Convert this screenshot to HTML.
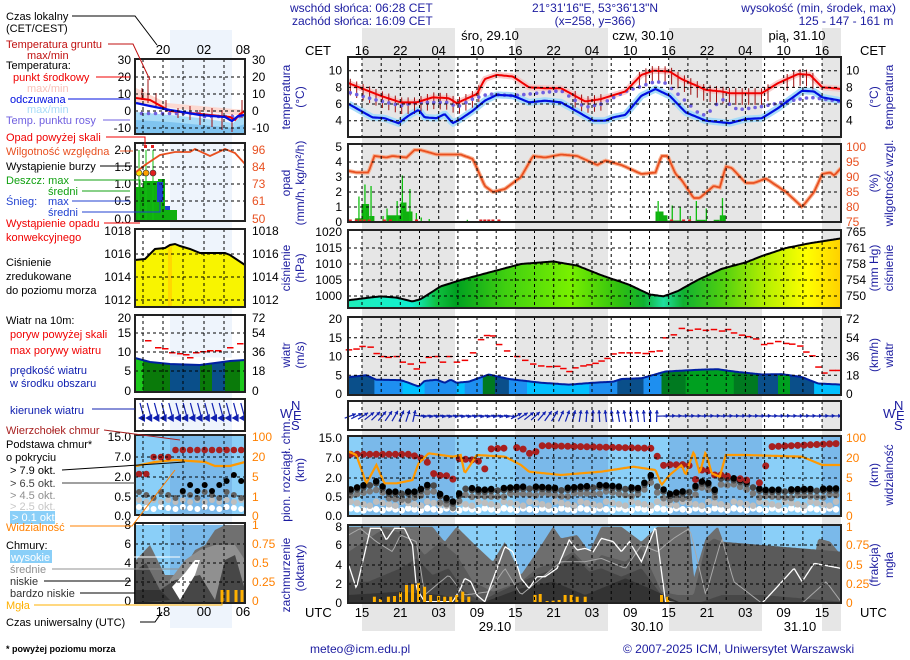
<!DOCTYPE html>
<html><head><meta charset="utf-8"><style>
html,body{margin:0;padding:0;background:#fff;width:910px;height:660px;overflow:hidden}
svg{display:block}
</style></head><body>
<svg id="s" width="910" height="660" xmlns="http://www.w3.org/2000/svg" font-family="Liberation Sans, sans-serif" font-size="12"></svg>
<script>
let o='';
const X=z=>z/2.49+280;
const f=n=>n.toFixed(1);
function interp(L,z){if(z<=L[0][0])return L[0][1];for(let i=1;i<L.length;i++){if(z<=L[i][0]){const a=L[i-1],b=L[i];return a[1]+(b[1]-a[1])*(z-a[0])/(b[0]-a[0]);}}return L[L.length-1][1];}
function samp(L,fy,step){step=step||4;const p=[];for(let z=171;z<=1397;z+=step)p.push([X(z),fy(interp(L,z))]);p.push([X(1397),fy(interp(L,1397))]);return p;}
function pth(p){return 'M'+p.map(q=>f(q[0])+' '+f(q[1])).join('L');}
function line(pts,c,w,extra){o+=`<path d="${pth(pts)}" fill="none" stroke="${c}" stroke-width="${w}" ${extra||''}/>`;}
function area(pts,bot,c){o+=`<path d="${pth(pts)}L${f(pts[pts.length-1][0])} ${bot}L${f(pts[0][0])} ${bot}Z" fill="${c}"/>`;}
function T(x,y,s,c,a,extra){o+=`<text x="${x}" y="${y}" fill="${c||'#000'}" ${a?'text-anchor="'+a+'"':''} ${extra||''}>${s}</text>`;}
function R(x,y,s,c,extra){o+=`<text transform="translate(${x},${y}) rotate(-90)" text-anchor="middle" fill="${c||'#1c1ca0'}" font-size="12" ${extra||''}>${s}</text>`;}
const L0=348,R0=841,M0=135,M1=245;
const nights=[[362,455],[515,608],[669,762],[822,841]];
nights.forEach(n=>o+=`<rect x="${n[0]}" y="28" width="${n[1]-n[0]}" height="603" fill="#e6e6e6"/>`);
o+=`<rect x="170" y="30" width="62" height="598" fill="#eef4fc"/>`;
[[436,516],[525,603]].forEach(r=>{
 o+=`<rect x="${L0}" y="${r[0]}" width="${R0-L0}" height="${r[1]-r[0]}" fill="#8acff8"/>`;
 nights.forEach(n=>o+=`<rect x="${n[0]}" y="${r[0]}" width="${n[1]-n[0]}" height="${r[1]-r[0]}" fill="#7ab9ea"/>`);
 o+=`<rect x="${M0}" y="${r[0]}" width="${M1-M0}" height="${r[1]-r[0]}" fill="#8acff8"/><rect x="170" y="${r[0]}" width="62" height="${r[1]-r[0]}" fill="#7ab9ea"/>`;
});
const yT=t=>70.7+(10-t)*8.33;
const red=[[171,8.5],[250,7.0],[300,6.2],[340,6.2],[380,6.8],[420,6.7],[440,6.1],[490,7.2],[510,9.0],[540,9.5],[580,9.3],[620,8.0],[660,7.9],[700,7.9],[760,6.3],[800,6.6],[860,7.5],[900,9.5],[930,10.0],[970,9.9],[1000,9.0],[1060,7.7],[1100,7.5],[1120,7.3],[1200,7.3],[1240,8.5],[1290,9.6],[1320,9.5],[1350,8.0],[1380,7.9],[1397,7.8]];
const blue=[[171,6.0],[230,4.4],[260,4.3],[295,3.7],[320,4.6],[345,5.3],[360,4.4],[390,4.3],[410,4.8],[430,3.7],[450,4.2],[480,5.2],[510,6.4],[540,7.1],[580,7.0],[620,6.2],[660,6.4],[700,6.2],[780,4.0],[810,4.0],[830,4.4],[860,4.7],[900,7.0],[935,7.8],[970,7.0],[1010,5.0],[1060,4.0],[1120,3.7],[1160,4.2],[1200,4.3],[1240,5.5],[1300,7.6],[1330,7.5],[1350,6.8],[1397,6.4]];
const dew=[[171,7.4],[230,6.6],[300,5.8],[340,6.2],[420,6.2],[440,5.6],[480,6.6],[520,7.2],[580,7.0],[640,7.3],[700,7.6],[760,5.6],[800,6.0],[860,7.5],[935,8.7],[960,8.5],[1000,6.8],[1040,5.0],[1060,4.6],[1100,6.6],[1140,5.3],[1200,5.7],[1260,6.3],[1320,6.8],[1397,6.3]];
line(samp(red,t=>yT(t)),'#f8c0c0',6,'opacity="0.8"');
line(samp(blue,t=>yT(t)),'#a8dcf8',7);
for(let z=175;z<1397;z+=16){const inr=(z<500)||(z>730&&z<800)||(z>880&&z<1230)||(z>1250&&z<1340);if(!inr)continue;const t=interp(red,z);o+=`<line x1="${f(X(z))}" x2="${f(X(z))}" y1="${f(yT(t+0.6))}" y2="${f(yT(t-1.4))}" stroke="#a01010" stroke-width="1"/>`;}
for(let z=175;z<1397;z+=16){o+=`<circle cx="${f(X(z))}" cy="${f(yT(interp(dew,z)))}" r="1.8" fill="#7060e0"/>`;}
line(samp(red,t=>yT(t)),'#f00000',2);
line(samp(blue,t=>yT(t)),'#0010e0',2.2);
const yP=m=>222-m*15, yRH=r=>147+(100-r)*3.0;
[[187,205,0.25],[203,222,1.2],[222,235,0.4],[265,300,0.45],[300,315,1.3],[315,330,0.7],[935,955,0.7],[955,965,0.45],[965,1000,0.1],[1035,1060,0.15],[1080,1095,0.15],[1095,1110,0.45]].forEach(b=>{o+=`<rect x="${f(X(b[0]))}" y="${f(yP(b[2]))}" width="${f((b[1]-b[0])/2.49)}" height="${f(b[2]*15)}" fill="#10b010"/>`;});
[[195,1.7],[210,2.5],[225,2.4],[255,0.4],[265,0.9],[290,1.4],[303,3.1],[322,2.2],[338,0.6],[350,0.3],[370,0.2],[465,0.15],[940,1.4],[975,1.1],[995,1.0],[1020,0.4],[1035,1.4],[1060,0.9],[1100,1.6]].forEach(b=>{o+=`<rect x="${f(X(b[0]))}" y="${f(yP(b[1]))}" width="1.3" height="${f(b[1]*15)}" fill="#10c010"/>`;});
[175,190,200,210,222,260,275,340,500,510,520,530,545,975,1005,1020].forEach(z=>o+=`<rect x="${f(X(z)-1.5)}" y="219.5" width="3" height="3" fill="#e02020"/>`);
const rh=[[171,92],[190,91.5],[220,91.5],[235,97],[265,96.5],[280,97],[315,96.5],[335,99],[350,99],[390,97.5],[450,97.5],[480,96],[510,87],[530,85],[560,86],[600,90],[630,97],[660,96.5],[700,97.5],[740,97],[790,94],[810,95.5],[850,94],[900,91],[935,91.5],[950,97],[965,97],[985,91],[1000,89],[1030,83],[1045,83],[1080,87],[1095,86.5],[1110,93.5],[1125,93],[1160,88],[1180,88],[1210,89.5],[1260,85],[1300,80],[1330,85],[1350,91],[1370,91.5],[1380,90.5],[1397,93]];
line(samp(rh,yRH),'#f8b090',4);
line(samp(rh,yRH),'#e85020',1.8);
const yp=p=>232+(1020-p)*3.2;
const pr=[[171,998.7],[250,999.9],[290,999.5],[330,998.3],[350,999],[400,1003],[450,1005],[540,1008],[600,1010],[680,1010.8],[740,1009.5],[800,1006.5],[870,1003.5],[920,1000.5],[955,999.9],[990,1001.5],[1040,1005],[1100,1008.5],[1160,1010.5],[1200,1012.5],[1260,1015],[1320,1016.5],[1397,1018]];
o+=`<defs><linearGradient id="pg" x1="${L0}" x2="${R0}" y1="0" y2="0" gradientUnits="userSpaceOnUse">
<stop offset="0" stop-color="#20eeb8"/><stop offset="0.13" stop-color="#10f0d0"/><stop offset="0.18" stop-color="#10c040"/><stop offset="0.22" stop-color="#00a020"/><stop offset="0.32" stop-color="#40d010"/><stop offset="0.45" stop-color="#78f000"/><stop offset="0.55" stop-color="#30c010"/><stop offset="0.6" stop-color="#10b030"/><stop offset="0.64" stop-color="#20e0a0"/><stop offset="0.68" stop-color="#10b030"/><stop offset="0.76" stop-color="#50d010"/><stop offset="0.85" stop-color="#b8f000"/><stop offset="0.93" stop-color="#ffff00"/><stop offset="1" stop-color="#ffd000"/></linearGradient></defs>`;
area(samp(pr,yp),308,'url(#pg)');
line(samp(pr,yp),'#000',2);
const yw=w=>394-w*3.75;
const wm=[[171,4.5],[215,5.0],[240,3.8],[300,3.7],[320,3.0],[345,2.0],[360,3.5],[390,3.8],[410,3.0],[425,3.8],[440,3.0],[470,3.3],[520,5.2],[570,4.0],[650,3.0],[720,2.5],[780,3.0],[830,3.3],[850,4.0],[900,4.2],[960,6.0],[1050,6.5],[1090,6.6],[1130,6.0],[1200,5.2],[1250,5.3],[1300,4.5],[1340,2.8],[1397,2.5]];
o+=`<clipPath id="wc"><path d="${pth(samp(wm,yw))}L${R0} 395L${L0} 395Z"/></clipPath><g clip-path="url(#wc)">`;
[[171,235,'#0a4f8a'],[235,305,'#1e8ff0'],[305,360,'#00c0ff'],[360,440,'#1e8ff0'],[440,460,'#00c0ff'],[460,505,'#1e8ff0'],[505,535,'#007a20'],[535,570,'#0a4f8a'],[570,615,'#1e8ff0'],[615,770,'#00c0ff'],[770,840,'#1e8ff0'],[840,905,'#0a4f8a'],[905,950,'#1e8ff0'],[950,1010,'#007a20'],[1010,1130,'#00a020'],[1130,1190,'#007a20'],[1190,1240,'#0a4f8a'],[1240,1270,'#00a020'],[1270,1330,'#0a4f8a'],[1330,1397,'#00c0ff']].forEach(s=>o+=`<rect x="${f(X(s[0]))}" y="317" width="${f((s[1]-s[0])/2.49+0.5)}" height="78" fill="${s[2]}"/>`);
o+=`</g>`;
line(samp(wm,yw),'#0020a0',2);
[[171,11.8],[190,12],[205,12.7],[225,12.5],[240,10.8],[255,10],[270,9.8],[290,10],[305,8.5],[325,8],[340,6.7],[355,8.4],[370,9.8],[390,10],[405,8.5],[420,10],[440,8.5],[460,9],[480,11],[500,14.5],[515,15.6],[530,15.5],[545,13.2],[565,11.5],[590,10],[610,9],[630,8],[650,7.5],[670,7.3],[690,7.4],[705,6.8],[720,6],[735,7],[755,7.5],[770,7.8],[785,8.2],[800,8.8],[815,9.5],[830,10.7],[850,11],[870,11],[890,11],[910,10.8],[925,11.3],[945,11.5],[960,15],[980,15.8],[1000,17.5],[1020,17],[1040,17.3],[1060,17],[1080,17.2],[1100,16.8],[1115,17.2],[1130,16.3],[1150,15.7],[1165,15.3],[1185,14.7],[1205,13.2],[1220,13.5],[1240,14],[1260,13.5],[1275,13.3],[1295,12.8],[1310,11.2],[1325,10.2],[1340,7.2],[1355,5.6],[1375,6.3],[1390,6.3]].forEach(g=>o+=`<rect x="${f(X(g[0])-3)}" y="${f(yw(g[1])-0.7)}" width="6.5" height="1.5" fill="#f00000"/>`);
function ang(z){if(z<340)return 20+(z-171)/170*60;if(z<580)return -8;if(z<760)return 25+(z-580)/180*60;if(z<950)return 85+Math.sin((z-760)/190*Math.PI)*15;return 2;}
for(let z=175;z<1397;z+=15.9){const a=ang(z)*Math.PI/180,cx=X(z),cy=416,dx=Math.cos(a)*6,dy=-Math.sin(a)*6;
 const hx=cx+dx,hy=cy+dy;const b1=a+2.6,b2=a-2.6;
 o+=`<line x1="${f(cx-dx)}" y1="${f(cy-dy)}" x2="${f(hx)}" y2="${f(hy)}" stroke="#1020b0" stroke-width="1.2"/><path d="M${f(hx)} ${f(hy)}L${f(hx+Math.cos(b1)*4)} ${f(hy-Math.sin(b1)*4)}L${f(hx+Math.cos(b2)*4)} ${f(hy-Math.sin(b2)*4)}Z" fill="#1020b0"/>`;}
const yz=zy=>zy/3+395;
const cred=[[171,178],[330,178],[345,192],[360,185],[380,235],[400,242],[420,242],[430,255],[440,190],[480,195],[500,200],[510,222],[520,162],[600,157],[615,172],[630,180],[650,152],[930,160],[950,212],[980,208],[1000,212],[1015,195],[1030,262],[1050,225],[1065,225],[1080,240],[1100,240],[1200,265],[1220,155],[1397,145]];
const cblk=[[171,285],[250,255],[260,290],[340,290],[380,260],[400,300],[430,320],[460,275],[500,285],[600,275],[640,275],[700,280],[800,270],[900,280],[920,235],[940,270],[970,297],[1020,285],[1060,252],[1080,290],[1100,240],[1160,260],[1200,285],[1397,280]];
let k=0;
for(let z=176;z<1397;z+=15.9,k++){const x=X(z);
 const skipR=(z>560&&z<600&&k%2)||(z>1110&&z<1200&&k%3==0);
 const r=k%5;
 o+=`<circle cx="${f(x)}" cy="${f(yz(340+(k%3)*3))}" r="3.3" fill="#ffffff"/>`;
 o+=`<circle cx="${f(x)}" cy="${f(yz(320+(k%4)*4))}" r="3.3" fill="#bdbdbd"/>`;
 o+=`<circle cx="${f(x)}" cy="${f(yz(interp(cblk,z)+18+r*2))}" r="3.3" fill="#7a7a7a"/>`;
 o+=`<circle cx="${f(x)}" cy="${f(yz(interp(cblk,z)+6))}" r="3.3" fill="#4a4a4a"/>`;
 if(r!=3)o+=`<circle cx="${f(x)}" cy="${f(yz(interp(cblk,z)))}" r="3.3" fill="#000"/>`;
 if(!skipR)o+=`<circle cx="${f(x)}" cy="${f(yz(interp(cred,z)))}" r="3.5" fill="#a82020"/>`;
}
const vis=[[171,170],[190,180],[215,265],[240,210],[260,265],[290,265],[330,255],[345,205],[370,175],[400,180],[430,185],[450,180],[460,235],[490,180],[560,185],[600,210],[620,230],[700,240],[800,230],[880,215],[935,225],[950,270],[970,240],[1000,210],[1010,240],[1030,170],[1045,235],[1060,170],[1075,235],[1095,245],[1110,180],[1160,180],[1300,185],[1350,210],[1397,210]];
line(samp(vis,yz,3),'#ff9900',2.2);
const ctot=[[171,395],[340,395],[380,395],[410,440],[440,395],[490,455],[530,500],[560,440],[600,540],[640,470],[680,395],[700,430],[740,420],[770,470],[800,395],[850,395],[900,440],[940,395],[1020,395],[1030,550],[1060,430],[1090,395],[1110,460],[1140,480],[1200,520],[1250,510],[1280,545],[1300,575],[1320,560],[1340,430],[1370,440],[1397,480]];
const cmid=[[171,470],[260,400],[320,420],[360,480],[400,440],[440,480],[480,560],[530,590],[600,560],[640,520],[690,500],[730,470],[770,520],[800,480],[860,500],[900,460],[950,590],[990,600],[1030,600],[1060,450],[1080,430],[1100,440],[1397,470]];
const clow=[[171,560],[220,560],[300,520],[340,490],[380,540],[420,520],[460,590],[500,620],[530,600],[600,560],[640,540],[690,520],[730,480],[770,530],[800,520],[850,545],[900,520],[950,600],[990,625],[1040,625],[1100,600],[1200,600],[1397,620]];
const cvl=[[171,600],[300,590],[400,600],[500,625],[600,580],[680,560],[760,600],[860,550],[920,580],[1000,625],[1397,625]];
area(samp(ctot,yz),603,'#6e6e6e');
area(samp(cmid,yz),603,'#5a5a5a');
area(samp(clow,yz),603,'#474747');
area(samp(cvl,yz),603,'#333');
const chi=[[171,510],[190,580],[210,480],[225,400],[250,400],[265,435],[285,400],[310,400],[330,450],[340,580],[360,620],[430,620],[450,580],[460,550],[475,560],[490,600],[510,620],[560,455],[580,470],[600,550],[620,580],[640,545],[660,545],[690,520],[720,435],[740,465],[760,460],[780,470],[800,430],[830,440],[850,470],[870,440],[900,500],[935,395],[960,620],[1000,625],[1200,625],[1250,560],[1280,520],[1300,560],[1330,505],[1397,520]];
const cmd2=[[171,420],[200,400],[240,440],[280,470],[300,420],[340,440],[360,600],[420,540],[460,600],[520,590],[560,520],[600,600],[640,560],[700,500],[760,500],[800,490],[860,520],[900,450],[940,470],[980,430],[1020,400],[1060,600],[1100,430],[1130,560],[1200,625],[1300,625],[1360,560],[1397,620]];
line(samp(cmd2,yz,6),'#a8a8a8',1);
line(samp(chi,yz,3),'#ffffff',1.3);
[[235,605],[250,612],[270,605],[285,603],[300,592],[315,570],[330,568],[345,565],[360,575],[375,600],[395,603],[410,605],[425,605],[440,600],[455,590],[470,605],[635,600],[648,597],[665,618],[680,617],[695,615],[710,600],[725,600],[740,605],[760,605],[950,600],[965,605]].forEach(b=>o+=`<rect x="${f(X(b[0])-1.5)}" y="${f(yz(b[1]))}" width="3" height="${f(603-yz(b[1]))}" fill="#ffb000"/>`);
// mini
o+=`<path d="M136 88L167 103L245 110L245 116L136 104Z" fill="#fcd8d0"/>`;
o+=`<path d="M136 112L170 115L200 118L233 123L240 117L245 115L245 134L136 134Z" fill="#a8dcf8"/><path d="M136 120L170 122L233 128L245 124L245 134L136 134Z" fill="#80c4f0"/>`;
[[142,88,100],[148,79,103],[156,93,108],[166,100,112],[178,108,118],[190,106,120],[200,110,125],[212,108,127],[222,110,130],[232,114,132],[242,100,118]].forEach(b=>o+=`<line x1="${b[0]}" x2="${b[0]}" y1="${b[1]}" y2="${b[2]}" stroke="#a01010"/>`);
for(let x=140;x<245;x+=7)o+=`<circle cx="${x+1.5}" cy="${113.5+(x>200?3:0)}" r="1.8" fill="#7060e0"/>`;
line([[136,98],[150,100],[170,111],[200,114],[230,117],[235,120],[240,114],[245,111]],'#f00000',2);
line([[136,103],[150,106],[170,110],[200,115],[225,117],[232,121],[238,116],[245,115]],'#0010e0',2.2);
o+=`<rect x="136" y="187" width="7" height="35" fill="#10b010"/><rect x="143" y="181" width="15" height="41" fill="#10b010"/><rect x="158" y="179" width="7" height="43" fill="#10b010"/><rect x="165" y="210" width="12" height="12" fill="#10b010"/><rect x="157" y="182" width="6" height="20" fill="#2040d0"/><rect x="165" y="206" width="5" height="4" fill="#2040d0"/>`;
[[139,173,'#ffe000'],[146,173,'#ffa000'],[153,173,'#e02020']].forEach(d=>o+=`<line x1="${d[0]}" x2="${d[0]}" y1="150" y2="221" stroke="#10c010"/><circle cx="${d[0]}" cy="${d[1]}" r="3" fill="${d[2]}" stroke="#333" stroke-width="0.6"/>`);
o+=`<rect x="144" y="145" width="3" height="3" fill="#e02020"/><rect x="151" y="145" width="3" height="3" fill="#e02020"/>`;
line([[136,172],[145,165],[160,155],[175,152],[190,152],[195,149],[210,156],[225,149],[235,153],[245,164]],'#e85020',1.8);
o+=`<path d="M135 260L145 259L155 249L165 248L170 245L175 244L180 246L190 249L200 253L225 253L230 255L245 265L245 307L135 307Z" fill="#f8f400"/><rect x="168" y="245" width="4" height="62" fill="#ffd800"/>`;
line([[135,260],[145,259],[155,249],[165,248],[170,245],[175,244],[180,246],[190,249],[200,253],[225,253],[230,255],[245,265]],'#000',2);
[[135,143,'#1cc81c'],[143,170,'#0a7a0a'],[170,200,'#0a4f8a'],[200,212,'#0a7a0a'],[212,225,'#0a4f8a'],[225,240,'#0a7a0a'],[240,245,'#1cc81c']].forEach(s=>o+=`<rect x="${s[0]}" y="358" width="${s[1]-s[0]}" height="34" fill="${s[2]}"/>`);
o+=`<path d="M135 358L150 362L170 364L200 365L230 361L245 360L245 358L135 356Z" fill="#fff"/>`;
line([[135,358],[150,362],[170,364],[200,365],[230,361],[245,360]],'#0020a0',2);
[[148,340],[158,347],[165,348],[172,352],[180,353],[186,354],[190,357],[196,352],[203,351],[210,350],[218,350],[230,347],[240,343]].forEach(g=>o+=`<rect x="${g[0]-3}" y="${g[1]}" width="6.5" height="1.5" fill="#f00000"/>`);
for(let x=140;x<245;x+=7.2){o+=`<line x1="${f(x)}" y1="403" x2="${f(x+4)}" y2="418" stroke="#1020b0" stroke-width="1.2"/><path d="M${f(x-2)} 418L${f(x+5)} 414L${f(x+5)} 422Z" fill="#1020b0"/>`;}
o+=`<path d="M136 466L155 462L175 460L205 462L215 466L230 466L245 462" fill="none" stroke="#ff9900" stroke-width="2.2"/>`;
for(let x=139,i=0;x<245;x+=7.3,i++){o+=`<circle cx="${f(x)}" cy="${507+(i%3)}" r="3" fill="#fff"/><circle cx="${f(x)}" cy="${500+(i%2)*2}" r="3" fill="#bdbdbd"/><circle cx="${f(x)}" cy="${492+(i%3)*3}" r="3" fill="#606060"/>`;
 if(i>5)o+=`<circle cx="${f(x)}" cy="${(i<12?491:481)-(i%2)*6}" r="3" fill="#000"/>`;
 o+=`<circle cx="${f(x)}" cy="${i<2?474:(i<5?457:450)}" r="3.3" fill="#a82020"/>`;}
o+=`<path d="M136 560L150 545L165 575L180 575L195 550L205 545L215 530L225 525L245 525L245 603L136 603Z" fill="#707070"/>`;
o+=`<path d="M170 580L185 560L200 550L215 545L235 545L245 560L245 603L170 603Z" fill="#909090"/>`;
o+=`<path d="M136 570L146 563L160 590L175 580L200 575L215 600L225 560L235 555L245 590L245 603L136 603Z" fill="#474747"/>`;
o+=`<path d="M136 590L160 590L170 600L136 603Z" fill="#333"/><path d="M172 587L185 573L195 560L200 560L195 575L180 600Z" fill="#fff"/>`;
[222,228,236,242].forEach(x=>o+=`<rect x="${x-1.5}" y="590" width="3" height="13" fill="#ffb000"/>`);
// grid
const panels=[[57,137,[10,8,6,4].map(yT)],[144,222,[1,2,3,4].map(yP)],[230,308,[1000,1005,1010,1015].map(yp)],[317,395,[5,10,15].map(yw)],[401,430,[]],[436,516,[458,478,497]],[525,603,[545,565,584]]];
const mpanels=[[59,134,[77,94,111,128]],[143,221,[150,167,184,201]],[229,307,[254,277,300]],[315,392,[333,352,371]],[399,431,[]],[435,515,[457,477,496]],[523,603,[544,563,582]]];
const dash='stroke="#000" stroke-width="1" stroke-dasharray="3,3"';
panels.forEach(p=>{for(let x=362;x<R0-2;x+=19.17)o+=`<line x1="${f(x)}" x2="${f(x)}" y1="${p[0]}" y2="${p[1]}" ${dash}/>`;p[2].forEach(y=>o+=`<line x1="${L0}" x2="${R0}" y1="${f(y)}" y2="${f(y)}" ${dash}/>`);o+=`<rect x="${L0}" y="${p[0]}" width="${R0-L0}" height="${p[1]-p[0]}" fill="none" stroke="#222" stroke-width="2"/>`;});
mpanels.forEach(p=>{[143,163,183,204,224].forEach(x=>o+=`<line x1="${x}" x2="${x}" y1="${p[0]}" y2="${p[1]}" ${dash}/>`);p[2].forEach(y=>o+=`<line x1="${M0}" x2="${M1}" y1="${y}" y2="${y}" ${dash}/>`);o+=`<rect x="${M0}" y="${p[0]}" width="${M1-M0}" height="${p[1]-p[0]}" fill="none" stroke="#222" stroke-width="2"/>`;});
function ticks(vals,ys,xl,xr,cl,cr){vals.forEach((v,i)=>{if(v[0]!==null)T(xl,f(ys[i]+4),v[0],cl||'#000','end');if(v[1]!==null)T(xr,f(ys[i]+4),v[1],cr||'#000');});}
ticks([['10','10'],['8','8'],['6','6'],['4','4']],[10,8,6,4].map(yT),342,846);
ticks([['5','100'],['4','95'],['3','90'],['2','85'],['1','80'],['0','75']],[5,4,3,2,1,0].map(yP),342,846,'#000','#e85020');
ticks([['1020','765'],['1015','761'],['1010','758'],['1005','754'],['1000','750']],[1020,1015,1010,1005,1000].map(yp),342,846);
ticks([['20','72'],['15','54'],['10','36'],['5','18'],['0','0']],[20,15,10,5,0].map(yw),342,846);
ticks([['15.0','100'],['7.0','20'],['2.0','5'],['0.5','1'],['0.0','0']],[438,458,478,497,516],342,846,'#000','#ff8000');
ticks([['8','1'],['6','0.75'],['4','0.5'],['2','0.25'],['0','0']],[527,545,565,584,603],342,846,'#000','#ff8000');
ticks([['30','30'],['20','20'],['10','10'],['0','0'],['-10','-10']],[60,77,94,111,128],131,252);
ticks([['2.0','96'],['1.5','84'],['1.0','73'],['0.5','61'],['0.0','50']],[150,167,184,201,219],131,252,'#000','#e85020');
ticks([['1018','1018'],['1016','1016'],['1014','1014'],['1012','1012']],[231,254,277,300],131,252);
ticks([['20','72'],['15','54'],['10','36'],['5','18'],['0','0']],[318,333,352,371,391],131,252);
ticks([['15.0','100'],['7.0','20'],['2.0','5'],['0.5','1'],['0.0','0']],[437,457,477,497,516],131,252,'#000','#ff8000');
ticks([['8','1'],['6','0.75'],['4','0.5'],['2','0.25'],['0','0']],[525,544,563,582,601],131,252,'#000','#ff8000');
o+=`<g font-size="13">`;
const tl=['16','22','04','10','16','22','04','10','16','22','04','10','16'];
const bl=['15','21','03','09','15','21','03','09','15','21','03','09','15'];
tl.forEach((s,i)=>{const x=362+i*38.33;T(f(x),55,s,'#000','middle');T(f(x),617,bl[i],'#000','middle');});
T(305,55,'CET');T(860,55,'CET');T(305,617,'UTC');T(860,617,'UTC');
T(490,40,'śro, 29.10','#000','middle');T(643,40,'czw, 30.10','#000','middle');T(797,40,'pią, 31.10','#000','middle');
T(495,631,'29.10','#000','middle');T(647,631,'30.10','#000','middle');T(800,631,'31.10','#000','middle');
T(163,54,'20','#000','middle');T(204,54,'02','#000','middle');T(243,54,'08','#000','middle');
T(163,616,'18','#000','middle');T(204,616,'00','#000','middle');T(243,616,'06','#000','middle');
o+=`</g>`;
const nv='#1c1ca0';
T(290,12,'wschód słońca: 06:28 CET',nv);T(292,25,'zachód słońca: 16:09 CET',nv);
T(595,12,'21°31\'16"E, 53°36\'13"N',nv,'middle');T(595,25,'(x=258,  y=366)',nv,'middle');
T(896,12,'wysokość (min, środek, max)',nv,'end');T(846,25,'125 - 147 - 161 m',nv,'middle');
R(290,97,'temperatura');R(304,97,'(°C)');
R(878,97,'(°C)');R(893,97,'temperatura');
R(290,183,'opad');R(304,183,'(mm/h, kg/m²/h)');
R(878,183,'(%)');R(893,183,'wilgotność wzgl.');
R(290,268,'ciśnienie');R(304,268,'(hPa)');
R(878,268,'(mm Hg)');R(893,268,'ciśnienie');
R(290,355,'wiatr');R(304,355,'(m/s)');
R(878,355,'(km/h)');R(893,355,'wiatr');
R(290,575,'zachmurzenie');R(304,568,'(oktanty)');
R(290,470,'pion. rozciągł. chm.');R(304,470,'(km)');
R(878,475,'(km)');R(893,475,'widzialność');
R(878,565,'(frakcja)');R(893,565,'mgła');
[[280,0],[883,0]].forEach(p=>{const x=p[0];o+=`<g fill="${nv}" font-size="13"><text x="${x}" y="418">W</text><text x="${x+11}" y="410">N</text><text x="${x+13}" y="420">E</text><text x="${x+11}" y="430">S</text></g>`;});
T(310,653,'meteo@icm.edu.pl',nv);T(623,653,'© 2007-2025 ICM, Uniwersytet Warszawski',nv);
o+=`<g font-size="11">`;
T(6,20,'Czas lokalny');T(6,32,'(CET/CEST)');
T(6,48,'Temperatura gruntu','#c01010');T(27,59,'max/min','#c01010');
T(6,69,'Temperatura:');
T(13,81,'punkt środkowy','#f00000');
T(27,92,'max/min','#f8c0b8');
T(10,103,'odczuwana','#0010e0');
T(27,113,'max/min','#a8dcf8');
T(6,124,'Temp. punktu rosy','#7060e0');
T(6,141,'Opad powyżej skali','#f00000');
T(6,155,'Wilgotność względna','#e85020');
T(6,170,'Wystąpienie burzy');
T(6,184,'Deszcz: max','#10a010');T(48,195,'średni','#10a010');
T(6,205,'Śnieg:','#2040d0');T(48,205,'max','#2040d0');T(48,216,'średni','#2040d0');
T(6,227,'Wystąpienie opadu','#f00000');T(6,241,'konwekcyjnego','#f00000');
T(6,266,'Ciśnienie');T(6,280,'zredukowane');T(6,294,'do poziomu morza');
T(6,324,'Wiatr na 10m:');
T(10,338,'poryw powyżej skali','#f00000');T(10,354,'max porywy wiatru','#f00000');
T(10,374,'prędkość wiatru','#1020b0');T(10,387,'w środku obszaru','#1020b0');
T(10,414,'kierunek wiatru','#1020b0');
T(6,434,'Wierzchołek chmur','#a82020');
T(6,448,'Podstawa chmur*');T(6,461,'o pokryciu');
T(10,474,'&gt; 7.9 okt.');T(10,487,'&gt; 6.5 okt.','#404040');T(10,499,'&gt; 4.5 okt.','#909090');T(10,510,'&gt; 2.5 okt.','#c8c8c8');
o+=`<rect x="10" y="511" width="45" height="13" fill="#8acff8"/>`;T(12,521,'&gt; 0.1 okt.','#fff');
T(6,531,'Widzialność','#ff8000');
T(6,549,'Chmury:');
o+=`<rect x="10" y="550" width="42" height="13" fill="#8acff8"/>`;T(11,561,'wysokie','#fff');
T(10,573,'średnie','#909090');T(10,585,'niskie','#333');T(10,597,'bardzo niskie','#333');T(6,609,'Mgła','#ffb000');
T(6,626,'Czas uniwersalny (UTC)');
o+=`</g>`;
T(6,652,'* powyżej poziomu morza','#000','','font-size="9" font-weight="bold"');
const cn=(pts,c)=>line(pts,c||'#000',1);
cn([[72,16],[135,16],[157,45]]);
cn([[108,44],[133,44],[150,80]],'#c01010');
cn([[96,77],[130,77]],'#f00000');cn([[68,99],[130,99]],'#0010e0');cn([[103,120],[130,120]],'#7060e0');
cn([[106,137],[145,137],[145,145]],'#f00000');cn([[120,151],[133,151]],'#e85020');cn([[100,166],[132,166]]);
cn([[74,180],[140,180],[140,215]],'#10a010');cn([[82,191],[130,191]],'#10a010');cn([[72,201],[130,201]],'#2040d0');cn([[82,212],[160,212],[160,182]],'#2040d0');
cn([[104,223],[140,223]],'#f00000');
cn([[92,409],[135,409]],'#1020b0');cn([[104,430],[180,440]],'#a82020');cn([[62,470],[185,462]]);cn([[62,483],[135,483]],'#404040');
cn([[70,526],[132,526],[175,470]],'#ff8000');cn([[55,557],[180,557]],'#fff');cn([[52,569],[180,569]],'#909090');cn([[44,581],[131,581]]);cn([[80,593],[135,593]]);cn([[34,605],[222,605],[222,598]],'#ffb000');
cn([[140,622],[155,622],[162,612]]);
document.getElementById('s').innerHTML=o;
</script>
</body></html>
